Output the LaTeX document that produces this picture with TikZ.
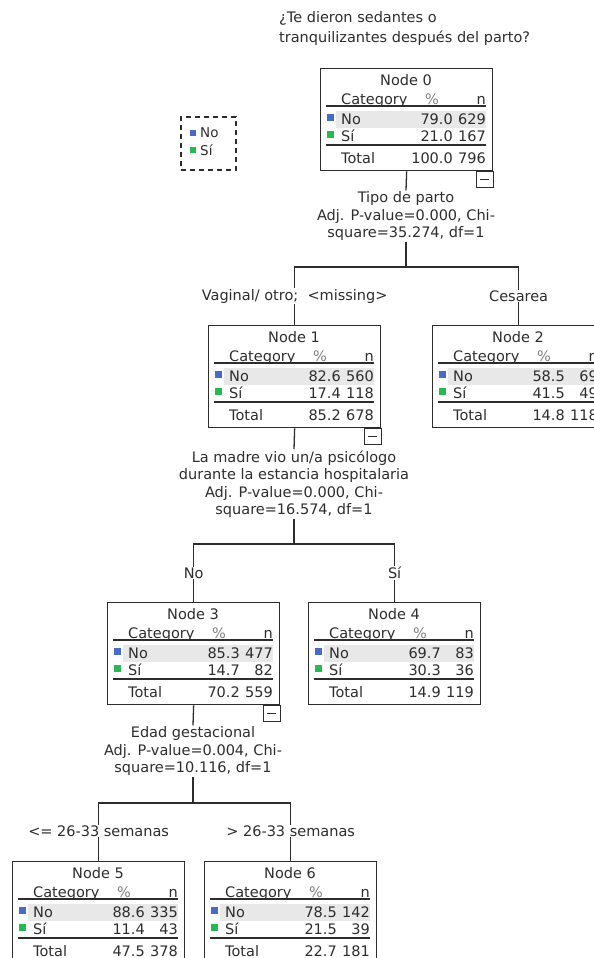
\documentclass[tikz,border=0pt]{standalone}
\usepackage{fontspec}
\setmainfont{DejaVu Sans}
\usetikzlibrary{calc,positioning}

\definecolor{catblue}{RGB}{70,108,200}
\definecolor{catgreen}{RGB}{40,185,80}
\definecolor{rowgray}{RGB}{232,232,232}
\definecolor{inkgray}{RGB}{45,45,45}

\begin{document}
\begin{tikzpicture}[x=1pt,y=-1pt,
  font=\fontsize{14.5}{17.5}\selectfont,text=inkgray,
  nodebox/.style={draw=inkgray,line width=1.3pt,anchor=north west,minimum width=172pt,minimum height=102pt,inner sep=0pt},
  cell/.style={inner sep=0pt},
  rule/.style={inkgray,line width=1.2pt},
  link/.style={inkgray,line width=1.3pt},
  split/.style={align=center,inner sep=1pt},
  edgelab/.style={fill=white,inner sep=1pt}]
  \useasboundingbox (0,0) rectangle (594,958);
  \clip (0,0) rectangle (594,958);
  % Question
  \node[anchor=north west,align=left,inner sep=0pt,font=\fontsize{14.5}{20}\selectfont] (q) at (279,11)
    {¿Te dieron sedantes o\\tranquilizantes después del parto?};
  % Legend
  \node[draw=inkgray,line width=1.2pt,dash pattern=on 5pt off 4pt,minimum width=55pt,minimum height=53pt] (lg) at (208.5,143.5) {};
  \fill[catblue] (190,130) rectangle (196,136);
  \fill[catgreen] (190,147) rectangle (196,153);
  \node[cell,anchor=west,font=\fontsize{13.5}{15}\selectfont] (lgno) at (200,133) {No};
  \node[cell,anchor=west,font=\fontsize{13.5}{15}\selectfont] (lgsi) at (200,150) {Sí};
  % Tree nodes: name/left/top/% no/n no/% si/n si/% total/n total
  \foreach \nm/\lx/\ty/\pa/\na/\pb/\nb/\pt/\nt in {
      0/320/68/79.0/629/21.0/167/100.0/796,
      1/208/325/82.6/560/17.4/118/85.2/678,
      2/432/325/58.5/69/41.5/49/14.8/118,
      3/107/602/85.3/477/14.7/82/70.2/559,
      4/308/602/69.7/83/30.3/36/14.9/119,
      5/12/861/88.6/335/11.4/43/47.5/378,
      6/204/861/78.5/142/21.5/39/22.7/181}{
    \node[nodebox] (n\nm) at (\lx,\ty) {};
    \begin{scope}[shift={(n\nm.north west)}]
      \fill[rowgray] (16,43) rectangle (166,60);
      \fill[catblue] (7,46) rectangle (14,53);
      \fill[catgreen] (7,63) rectangle (14,70);
      \draw[rule] (6,38) -- (166,38);
      \draw[rule] (6,77) -- (166,77);
      \node[cell,anchor=base] (n\nm-title) at (86,17) {Node \nm};
      \node[cell,anchor=base west] (n\nm-cat) at (21,36) {Category};
      \node[cell,anchor=base,text=gray] (n\nm-pc) at (112,36) {\%};
      \node[cell,anchor=base east] (n\nm-n) at (166,36) {n};
      \node[cell,anchor=base west] (n\nm-no) at (21,56) {No};
      \node[cell,anchor=base east] (n\nm-pa) at (133,56) {\pa};
      \node[cell,anchor=base east] (n\nm-na) at (166,56) {\na};
      \node[cell,anchor=base west] (n\nm-si) at (21,73) {Sí};
      \node[cell,anchor=base east] (n\nm-pb) at (133,73) {\pb};
      \node[cell,anchor=base east] (n\nm-nb) at (166,73) {\nb};
      \node[cell,anchor=base west] (n\nm-tot) at (21,95) {Total};
      \node[cell,anchor=base east] (n\nm-pt) at (133,95) {\pt};
      \node[cell,anchor=base east] (n\nm-nt) at (166,95) {\nt};
    \end{scope}
  }
  % Collapse boxes on split nodes
  \foreach \nm in {0,1,3}{
    \draw[rule] (n\nm.south east) rectangle ++(-17,16);
    \draw[rule] ($(n\nm.south east)+(-13,8)$) -- ++(9,0);
  }
  % Split on node 0
  \node[split] (s0) at (406,216) {Tipo de parto\\Adj. P-value=0.000, Chi-\\square=35.274, df=1};
  \coordinate (j0) at (406,267);
  \draw[link] (n0.south) -- (s0.north);
  \draw[link] (s0.south) -- (j0);
  \draw[link] (n1.north) |- (j0) -| (n2.north);
  \node[edgelab] (e1) at ($(n1.north)+(0,-29)$) {Vaginal/ otro;\ \ <missing>};
  \node[edgelab] (e2) at ($(n2.north)+(0,-29)$) {Cesarea};
  % Split on node 1
  \node[split] (s1) at (294,484) {La madre vio un/a psicólogo\\durante la estancia hospitalaria\\Adj. P-value=0.000, Chi-\\square=16.574, df=1};
  \coordinate (j1) at (294,544);
  \draw[link] (n1.south) -- (s1.north);
  \draw[link] (s1.south) -- (j1);
  \draw[link] (n3.north) |- (j1) -| (n4.north);
  \node[edgelab] (e3) at ($(n3.north)+(0,-29)$) {No};
  \node[edgelab] (e4) at ($(n4.north)+(0,-29)$) {Sí};
  % Split on node 3
  \node[split] (s3) at (193,751) {Edad gestacional\\Adj. P-value=0.004, Chi-\\square=10.116, df=1};
  \coordinate (j3) at (193,803);
  \draw[link] (n3.south) -- (s3.north);
  \draw[link] (s3.south) -- (j3);
  \draw[link] (n5.north) |- (j3) -| (n6.north);
  \node[edgelab] (e5) at ($(n5.north)+(0,-30)$) {<= 26-33 semanas};
  \node[edgelab] (e6) at ($(n6.north)+(0,-30)$) {> 26-33 semanas};
\end{tikzpicture}
\end{document}
